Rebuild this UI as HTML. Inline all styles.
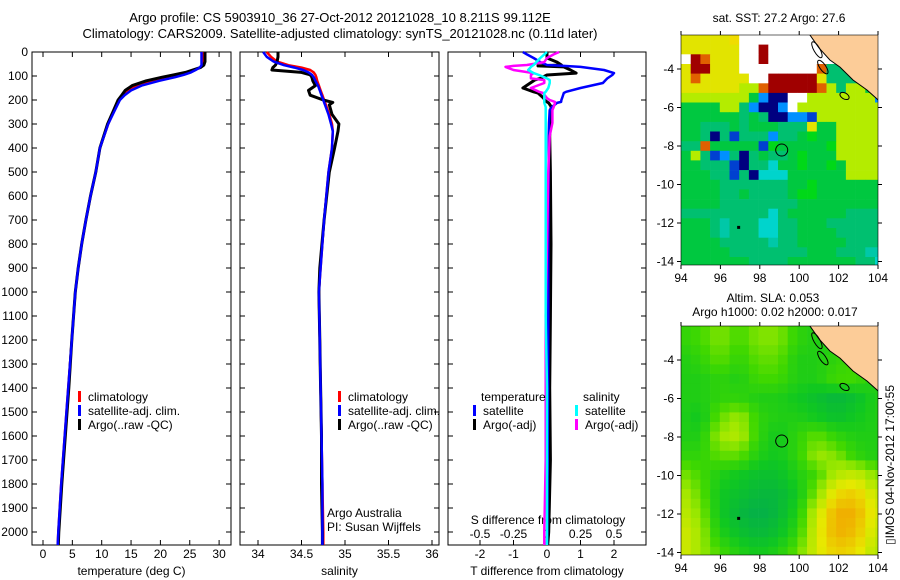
<!DOCTYPE html>
<html><head><meta charset="utf-8">
<style>
html,body{margin:0;padding:0;background:#fff;}
svg{display:block;font-family:"Liberation Sans",sans-serif;font-size:12px;}
text{fill:#000;}
</style></head>
<body>
<svg id="fig" width="900" height="580" viewBox="0 0 900 580" xmlns="http://www.w3.org/2000/svg">
<rect width="900" height="580" fill="#fff"/>
<text x="340" y="22" text-anchor="middle" font-size="13">Argo profile: CS 5903910_36 27-Oct-2012 20121028_10 8.211S 99.112E</text>
<text x="340" y="38" text-anchor="middle" font-size="13">Climatology: CARS2009. Satellite-adjusted climatology: synTS_20121028.nc (0.11d later)</text>
<text x="779" y="22" text-anchor="middle">sat. SST: 27.2 Argo: 27.6</text>
<text x="773" y="302" text-anchor="middle">Altim. SLA: 0.053</text>
<text x="775" y="316" text-anchor="middle">Argo h1000: 0.02 h2000: 0.017</text>
<text transform="translate(894,465) rotate(-90)" text-anchor="middle">▯IMOS 04-Nov-2012 17:00:55</text>
<g id="panels"></g>
</svg>
<script>
// ---------- data ----------
const depthT = [0,20,40,55,65,75,85,95,105,120,140,160,180,200,250,300,400,500,600,700,800,900,1000,1200,1400,1600,1800,2000,2054];
const tempClim = [27.3,27.3,27.3,27.2,26.8,25.8,24.5,22.8,21,18.5,16,14.6,13.7,13.0,12.0,11.1,9.7,9.0,8.1,7.3,6.6,6.0,5.5,4.9,4.3,3.7,3.1,2.6,2.5];
const tempSat  = [27.0,27.0,27.0,27.0,26.7,26.0,25.2,24.0,22.5,19.8,16.8,15.0,13.9,13.1,12.1,11.1,9.7,9.0,8.1,7.3,6.6,6.0,5.5,4.9,4.3,3.7,3.1,2.6,2.5];
const tempArgo = [27.6,27.6,27.6,27.4,26.8,25.5,24.3,22.3,20.3,17.6,15.2,14.0,13.4,12.8,11.9,11.0,9.7,9.0,8.1,7.3,6.6,6.0,5.5,4.9,4.4,3.8,3.2,2.7,2.6];

const depthS = [0,20,40,55,65,75,85,95,105,120,140,160,180,200,210,220,260,300,330,400,500,700,900,1000,1200,1400,1600,1800,2000,2054];
const salClim = [34.1,34.15,34.22,34.35,34.5,34.6,34.64,34.66,34.67,34.68,34.7,34.72,34.74,34.76,34.77,34.78,34.82,34.85,34.86,34.85,34.81,34.76,34.72,34.7,34.71,34.72,34.73,34.74,34.75,34.75];
const salSat  = [34.06,34.1,34.18,34.3,34.42,34.52,34.58,34.62,34.64,34.66,34.69,34.71,34.73,34.75,34.76,34.77,34.81,34.84,34.86,34.85,34.81,34.76,34.72,34.7,34.71,34.72,34.73,34.74,34.74,34.74];
const salArgo = [34.23,34.23,34.22,34.2,34.17,34.16,34.5,34.6,34.62,34.63,34.66,34.58,34.6,34.75,34.86,34.82,34.85,34.93,34.92,34.88,34.82,34.76,34.71,34.7,34.71,34.72,34.73,34.73,34.74,34.74];

const depthD = [0,10,25,42,54,58,62,75,88,96,110,117,129,150,166,171,192,200,208,212,229,242,296,350,500,800,1100,1400,1700,2000,2054];
const tDiffSat  = [-0.72,-0.6,-0.4,-0.2,0.0,0.5,1.0,1.7,2.0,1.95,1.8,1.75,1.67,1.0,0.57,0.5,0.45,0.43,0.42,0.3,0.15,0.08,0.06,0.05,0.05,0.04,0.04,0.03,0.02,0.01,0.0];
const tDiffArgo = [0,0,0,0.3,0.43,-0.27,0.5,0.7,0.87,0.0,-0.2,-0.37,-0.5,-0.72,-0.4,-0.27,-0.1,-0.07,0.0,0.05,0.13,0.1,0.1,0.08,0.1,0.12,0.1,0.08,0.1,0.05,0.02];
const sDiffSat  = [0,-0.02,-0.05,-0.08,-0.1,-0.11,-0.12,-0.14,-0.1,-0.06,0.0,0.02,0.02,0.01,-0.01,-0.02,-0.02,-0.02,-0.02,-0.02,-0.01,-0.01,-0.01,-0.01,-0.01,-0.01,-0.01,0.0,0.0,0.0,0.0];
const sDiffArgo = [0.09,0.05,0.0,-0.02,-0.15,-0.25,-0.31,-0.25,-0.1,-0.12,-0.12,-0.02,-0.02,-0.12,-0.06,-0.03,0.0,0.02,0.06,0.06,0.05,0.04,0.04,0.02,0.01,0.0,-0.01,-0.01,-0.01,-0.02,-0.02];

const depthTicks = [0,100,200,300,400,500,600,700,800,900,1000,1100,1200,1300,1400,1500,1600,1700,1800,1900,2000];
const tempTicks = [0,5,10,15,20,25,30];
const salTicks = [34,34.5,35,35.5,36];
const tDiffTicks = [-2,-1,0,1,2];
const sDiffTicks = [-0.5,-0.25,0,0.25,0.5];
const sDiffTickLabels = ["-0.5","-0.25","0","0.25","0.5"];

// SST map cells (0.5 deg), rows from north (-2.2) to south
const sstRows = [
"YYYYYyWWWWWWWWWWWWWWW",
"YYYYYYWWRWWWWWWWWWWWW",
"WROYYYWWRWWWWWWWWWWWW",
"YRRYYYWWWWWWWWOTTTWWW",
"YOYYYYYWWRRRRRYTTTTWW",
"YYYYYYLLORRRRROLTLLGW",
"LLLLLLLGBNNWWLLLLLLLB",
"GGGGLLTBNNBWLLLLLLLLL",
"GGGGGGTGTNNBBDLLLLLLL",
"GGTTTGTGGGTTTYGGLLLLL",
"GGTNTDTTTBTTGgGGLLLLL",
"TTOGGGGGDgGGGGGgLLLLL",
"GLTDBTNTGTTGgGGGLLLLL",
"GGTTTDNTTCGGgGGgGLLLL",
"GGGTTDTNCCCGGGGGGLLLL",
"GGGGTTTTTTTGGgGGGGGGG",
"GGGGTTGTTTTGggGGGGGGG",
"GGGGTTTTTTTTGGGGGGGGG",
"TTTTTTTTTCTGGGGGGTTTT",
"GGGTtTTTCCTTGGGTTTTTT",
"GGGTtTTTCCTTGGGGTTTTT",
"GGGGTTTTTtTTGGGGGTTTT",
"GGGGGTTTTTTTTGGGTTTtt",
"GGGGGGGTTTTGGGGGGGTTC"];
const sstColors = {Y:"#e2e400",y:"#f0dc00",L:"#b4ec00",G:"#00c840",g:"#00d818",T:"#00c070",t:"#00c8a8",C:"#00d4cc",B:"#0090ff",D:"#0040d0",N:"#000080",R:"#a00000",O:"#e06000",W:"#ffffff"};

// SLA coarse grid: lat -2..-14 (rows), lon 94..104 (cols)
const slaLats = [-2,-3,-4,-5,-6,-7,-8,-9,-10,-11,-12,-13,-14];
const slaLons = [94,95,96,97,98,99,100,101,102,103,104];
const slaGrid = [
[0.6,0.7,0.9,0.7,0.9,0.9,0.6,0.5,0.5,0.5,0.5],
[0.6,0.7,0.9,0.7,0.9,0.9,0.6,0.5,0.5,0.5,0.5],
[0.5,0.6,0.8,0.6,0.8,0.8,0.5,0.5,0.6,0.7,0.5],
[0.5,0.5,0.6,0.5,0.7,0.7,0.5,0.5,0.7,0.7,0.5],
[0.5,0.5,0.6,0.6,0.5,0.5,0.4,0.3,0.2,0.3,0.5],
[0.5,0.4,0.8,1.0,0.6,0.5,0.5,0.4,0.3,0.4,0.5],
[0.5,0.5,1.0,1.1,0.6,0.4,0.6,0.8,0.6,0.5,0.5],
[0.6,0.6,0.8,0.8,0.5,0.4,0.6,1.0,0.9,0.6,0.5],
[0.9,0.7,0.5,0.4,0.3,0.3,0.5,0.7,1.1,1.2,0.9],
[1.1,0.8,0.4,0.3,0.2,0.2,0.4,0.9,1.5,1.6,1.2],
[1.2,0.9,0.4,0.2,0.1,0.2,0.5,1.2,1.8,1.8,1.3],
[1.3,1.0,0.5,0.3,0.2,0.3,0.6,1.3,1.8,1.7,1.2],
[1.3,1.0,0.7,0.5,0.4,0.5,0.8,1.3,1.6,1.5,1.1]];

const argoLon = 99.112, argoLat = -8.211;
const coastLon = [100.55,101.0,101.56,102.07,102.73,103.44,104.0,104.2];
const coastLat = [-2.24,-2.9,-3.53,-3.9,-4.57,-5.09,-5.6,-5.7];
const mapLonTicks = [94,96,98,100,102,104];
const mapLatTicks = [-4,-6,-8,-10,-12,-14];

// ---------- drawing ----------
const NS = "http://www.w3.org/2000/svg";
const root = document.getElementById('panels');
function mk(tag, attrs, parent){
  const e = document.createElementNS(NS, tag);
  for (const k in attrs) e.setAttribute(k, attrs[k]);
  (parent||root).appendChild(e);
  return e;
}
function txt(x,y,s,anchor,parent){
  const t = mk('text',{x:x,y:y,'text-anchor':anchor||'middle'},parent);
  t.textContent = s; return t;
}
const yTop = 52, yBot = 545;
const yD = d => yTop + d*0.24;

function panel(name, x0, x1, xScale, ticks, labels, xlabel, showY){
  const g = mk('g',{});
  
  
  mk('rect',{x:x0,y:yTop,width:x1-x0,height:yBot-yTop,fill:'none',stroke:'#000','stroke-width':1},g);
  depthTicks.forEach(d=>{
    const y = yD(d);
    mk('line',{x1:x0,x2:x0+5,y1:y,y2:y,stroke:'#000'},g);
    mk('line',{x1:x1-5,x2:x1,y1:y,y2:y,stroke:'#000'},g);
    if (showY){ const t = txt(x0-4,y+4,String(d),'end',g);
      
       }
  });
  ticks.forEach((v,i)=>{
    const x = xScale(v);
    mk('line',{x1:x,x2:x,y1:yBot,y2:yBot-5,stroke:'#000'},g);
    mk('line',{x1:x,x2:x,y1:yTop,y2:yTop+5,stroke:'#000'},g);
    const t = txt(x,558,labels[i],'middle',g);
    
    
  });
  const t = txt((x0+x1)/2+ (showY?0:0),575,xlabel,'middle',g);
  
  
  return g;
}
function line(g, xs, ds, xScale, color, w, name){
  const pts = xs.map((v,i)=>xScale(v).toFixed(1)+','+yD(ds[i]).toFixed(1)).join(' ');
  const p = mk('polyline',{points:pts,fill:'none',stroke:color,'stroke-width':w,'stroke-linejoin':'round'},g);
  
  
}
function legend(g, x, y, items){
  items.forEach((it,i)=>{
    const yy = y + i*14;
    mk('rect',{x:x,y:yy-10,width:3,height:11,fill:it[0]},g);
    const t = txt(x+10,yy,it[1],'start',g);
    
    
  });
}

// Panel 1: temperature
const xT = v => 43 + v*5.87;
const g1 = panel('temperature-panel',32,231,xT,tempTicks,tempTicks.map(String),'temperature (deg C)',true);
line(g1,tempClim,depthT,xT,'#ff0000',2.5,'temp-climatology-line');
line(g1,tempArgo,depthT,xT,'#000000',3,'temp-argo-line');
line(g1,tempSat,depthT,xT,'#0000ff',2.5,'temp-satellite-line');
legend(g1,78,401,[['#f00','climatology'],['#00f','satellite-adj. clim.'],['#000','Argo(..raw -QC)']]);

// Panel 2: salinity
const xS = v => 258 + (v-34)*87;
const g2 = panel('salinity-panel',240,439,xS,salTicks,salTicks.map(String),'salinity',false);
line(g2,salClim,depthS,xS,'#ff0000',2.5,'sal-climatology-line');
line(g2,salArgo,depthS,xS,'#000000',3,'sal-argo-line');
line(g2,salSat,depthS,xS,'#0000ff',2.5,'sal-satellite-line');
legend(g2,338,401,[['#f00','climatology'],['#00f','satellite-adj. clim.'],['#000','Argo(..raw -QC)']]);
txt(327,517,'Argo Australia','start',g2);
txt(327,531,'PI: Susan Wijffels','start',g2);

// Panel 3: differences
const xTD = v => 547 + v*33.5;
const xSD = v => 547 + v*134;
const g3 = panel('difference-panel',448,646,xTD,tDiffTicks,tDiffTicks.map(String),'T difference from climatology',false);
sDiffTicks.forEach((v,i)=>{
  const t = txt(xSD(v),538,sDiffTickLabels[i],'middle',g3);
  
  
});
txt(548,524,'S difference from climatology','middle',g3);
line(g3,tDiffArgo,depthD,xTD,'#000000',3,'tdiff-argo-line');
line(g3,tDiffSat,depthD,xTD,'#0000ff',2.5,'tdiff-satellite-line');
line(g3,sDiffArgo,depthD,xSD,'#ff00ff',2.5,'sdiff-argo-line');
line(g3,sDiffSat,depthD,xSD,'#00ffff',2.5,'sdiff-satellite-line');
txt(481,401,'temperature','start',g3);
legend(g3,473,415,[['#00f','satellite'],['#000','Argo(-adj)']]);
txt(583,401,'salinity','start',g3);
legend(g3,575,415,[['#0ff','satellite'],['#f0f','Argo(-adj)']]);

// Maps
const mapX0 = 681, mapX1 = 878;
const lonX = lon => 681 + (lon-94)*19.7;
function mapFrame(name, top, bot, lat4y){
  const latY = lat => lat4y - (lat+4)*19.25;
  const g = mk('g',{});
  
  
  const cid = name+'-clip';
  const cp = mk('clipPath',{id:cid},g);
  mk('rect',{x:mapX0,y:top,width:mapX1-mapX0,height:bot-top},cp);
  const inner = mk('g',{'clip-path':'url(#'+cid+')'},g);
  return {g, inner, latY, top, bot};
}
function mapDecor(m){
  const {g, inner, latY, top, bot} = m;
  // land
  let pts = coastLon.map((lo,i)=>lonX(lo).toFixed(1)+','+latY(coastLat[i]).toFixed(1));
  pts.push(lonX(104.3)+','+(top-2), lonX(100.4)+','+(top-2));
  const land = mk('polygon',{points:pts.join(' '),fill:'#fccc98',stroke:'#000','stroke-width':1},inner);
  
  
  // islands
  mk('ellipse',{cx:lonX(100.9),cy:latY(-3.0),rx:3,ry:9,transform:'rotate(-30 '+lonX(100.9)+' '+latY(-3.0)+')',fill:'none',stroke:'#000'},inner);
  mk('ellipse',{cx:lonX(101.2),cy:latY(-3.9),rx:3,ry:8,transform:'rotate(-35 '+lonX(101.2)+' '+latY(-3.9)+')',fill:'none',stroke:'#000'},inner);
  mk('ellipse',{cx:lonX(102.3),cy:latY(-5.4),rx:5,ry:3,transform:'rotate(30 '+lonX(102.3)+' '+latY(-5.4)+')',fill:'none',stroke:'#000'},inner);
  mk('rect',{x:lonX(96.85),y:latY(-12.15),width:3,height:3,fill:'#000'},inner);
  const c = mk('circle',{cx:lonX(argoLon),cy:latY(argoLat),r:6,fill:'none',stroke:'#000','stroke-width':1},g);
  
  
  mk('rect',{x:mapX0,y:top,width:mapX1-mapX0,height:bot-top,fill:'none',stroke:'#000','stroke-width':0.6},g);
  mapLonTicks.forEach(lo=>{
    const x = lonX(lo);
    mk('line',{x1:x,x2:x,y1:bot,y2:bot+4,stroke:'#000'},g);
    mk('line',{x1:x,x2:x,y1:top,y2:top-4,stroke:'#000'},g);
    txt(x,bot+17,String(lo),'middle',g);
  });
  mapLatTicks.forEach(la=>{
    const y = latY(la);
    mk('line',{x1:mapX0-4,x2:mapX0,y1:y,y2:y,stroke:'#000'},g);
    mk('line',{x1:mapX1,x2:mapX1+4,y1:y,y2:y,stroke:'#000'},g);
    txt(mapX0-7,y+4,String(la),'end',g);
  });
}

// SST map
const m1 = mapFrame('sst-map',35,265,69);
sstRows.forEach((row,r)=>{
  for (let c=0;c<row.length;c++){
    const cell = mk('rect',{x:(mapX0 + c*9.7).toFixed(1),y:(35 + r*9.65).toFixed(1),width:10,height:10,fill:sstColors[row[c]]},m1.inner);
    
    
  }
});
mapDecor(m1);

// SLA map
const m2 = mapFrame('sla-map',326,555,360);
const stops = [[0,[0,168,88]],[0.4,[16,200,32]],[0.7,[64,216,0]],[1.0,[160,232,0]],[1.4,[232,232,0]],[1.8,[240,176,0]]];
function slaColor(v){
  if (v<=stops[0][0]) return 'rgb('+stops[0][1]+')';
  for (let i=1;i<stops.length;i++){
    if (v<=stops[i][0]){
      const f=(v-stops[i-1][0])/(stops[i][0]-stops[i-1][0]);
      const a=stops[i-1][1], b=stops[i][1];
      return 'rgb('+a.map((x,k)=>Math.round(x+(b[k]-x)*f)).join(',')+')';
    }
  }
  return 'rgb('+stops[stops.length-1][1]+')';
}
function slaAt(lon,lat){
  const fc = Math.max(0,Math.min(slaLons.length-1.001,lon-94));
  const fr = Math.max(0,Math.min(slaLats.length-1.001,-2-lat));
  const c=Math.floor(fc), r=Math.floor(fr), dc=fc-c, dr=fr-r;
  const v00=slaGrid[r][c], v01=slaGrid[r][c+1], v10=slaGrid[r+1][c], v11=slaGrid[r+1][c+1];
  return v00*(1-dc)*(1-dr)+v01*dc*(1-dr)+v10*(1-dc)*dr+v11*dc*dr;
}
for (let r=0;r<24;r++){
  for (let c=0;c<21;c++){
    const lon = 94 + (c+0.5)*0.5, lat = -2.27 - (r+0.5)*0.5;
    const cell = mk('rect',{x:(mapX0 + c*9.7).toFixed(1),y:(326 + r*9.6).toFixed(1),width:10,height:10,fill:slaColor(slaAt(lon,lat))},m2.inner);
    
    
  }
}
mapDecor(m2);
</script>
</body></html>
